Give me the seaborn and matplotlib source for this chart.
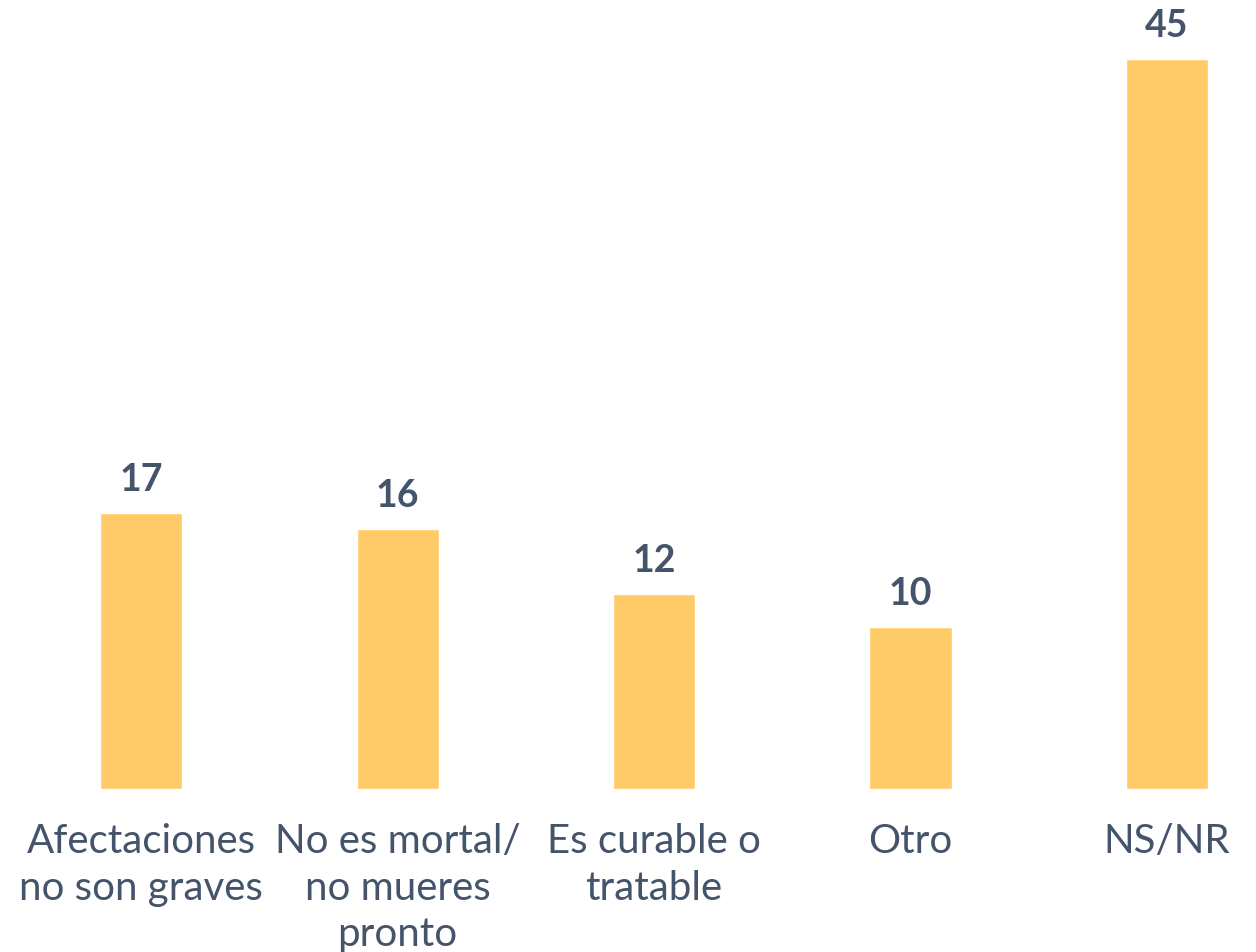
import matplotlib.pyplot as plt
import seaborn as sns
import pandas as pd

categories = ["Afectaciones\nno son graves", "No es mortal/\nno mueres\npronto",
              "Es curable o\ntratable", "Otro", "NS/NR"]
values = [17, 16, 12, 10, 45]

bar_color = "#FFCA68"
text_color = "#44546A"

df = pd.DataFrame({"cat": categories, "val": values})

sns.set_style("white")
plt.rcParams['font.family'] = ['Lato', 'DejaVu Sans']

fig = plt.figure(figsize=(12.56, 9.53), dpi=100)
ax = fig.add_axes([0, 0.171, 1, 0.829])

sns.barplot(data=df, x="cat", y="val", color=bar_color, width=0.32,
            saturation=1, ax=ax)

ax.set_xlim(-0.55, 4.347)
ax.set_ylim(0, 48.7)

# value labels above bars
for i, v in enumerate(values):
    ax.text(i, v + 1.05, str(v), ha='center', va='bottom', fontsize=27,
            fontweight='bold', color=text_color)

ax.set_xlabel("")
ax.set_ylabel("")
ax.set_yticks([])
ax.tick_params(axis='x', length=0, pad=24, labelsize=29, labelcolor=text_color)
for lbl in ax.get_xticklabels():
    lbl.set_linespacing(1.31)
sns.despine(ax=ax, left=True, bottom=True)

plt.savefig("out.png", dpi=100)
plt.close(fig)
